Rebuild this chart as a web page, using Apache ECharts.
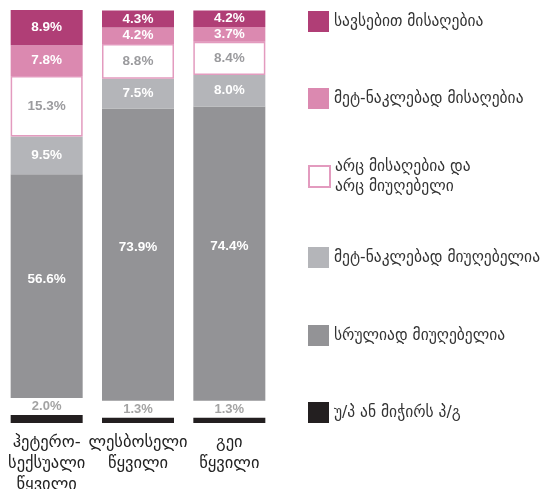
<!DOCTYPE html>
<html>
<head>
<meta charset="utf-8">
<script src="https://cdn.jsdelivr.net/npm/echarts@6/dist/echarts.min.js"></script>
<style>
  html, body { margin: 0; padding: 0; background: #fff; }
  #chart { width: 541px; height: 489px; }
</style>
</head>
<body>
<div id="chart"></div>
<script>
// categories (x axis)
const categories = ['ჰეტერო-\nსექსუალი\nწყვილი', 'ლესბოსელი\nწყვილი', 'გეი\nწყვილი'];

// answer shares, %
const fullyAcceptable = [8.9, 4.3, 4.2];
const moreOrLessAcceptable = [7.8, 4.2, 3.7];
const neitherNor = [15.3, 8.8, 8.4];
const moreOrLessUnacceptable = [9.5, 7.5, 8.0];
const fullyUnacceptable = [56.6, 73.9, 74.4];
const dontKnow = [2.0, 1.3, 1.3];

const names = [
  'სავსებით მისაღებია',
  'მეტ-ნაკლებად მისაღებია',
  'არც მისაღებია და არც მიუღებელი',
  'მეტ-ნაკლებად მიუღებელია',
  'სრულიად მიუღებელია',
  'უ/პ ან მიჭირს პ/გ'
];

const GAP = 4.3; // white gap between the "don't know" strip and the rest

const chart = echarts.init(document.getElementById('chart'));

const geo = '"DejaVu Sans", sans-serif';
const num = '"Liberation Sans Narrow", "Liberation Sans", Arial, sans-serif';
const pct = p => Number(p.value).toFixed(1) + '%';

function seg(name, data, color, labelColor, extra) {
  return Object.assign({
    name: name,
    type: 'bar',
    stack: 'all',
    barWidth: 72,
    data: data,
    itemStyle: { color: color },
    label: {
      show: true,
      position: 'inside',
      formatter: pct,
      color: labelColor,
      fontFamily: num,
      fontWeight: 'bold',
      fontSize: 13.5
    }
  }, extra || {});
}

const legendTops = [11, 88, 146.5, 247, 325, 402];
const legends = names.map((n, i) => ({
  data: [{ name: n, icon: 'rect' }],
  left: 308,
  top: legendTops[i],
  padding: 0,
  itemWidth: 21,
  itemHeight: 21,
  itemGap: 0,
  selectedMode: false,
  formatter: i === 2 ? 'არც მისაღებია და\nარც მიუღებელი' : '{name}',
  textStyle: {
    fontFamily: geo,
    fontSize: 15.5,
    color: '#333',
    lineHeight: 20,
    padding: i === 2 ? [20, 0, 0, 0] : 0
  }
}));

chart.setOption({
  animation: false,
  legend: legends,
  grid: { left: 1, top: 10, width: 274, height: 413, outerBoundsMode: 'none' },
  xAxis: {
    type: 'category',
    data: categories,
    axisLine: { show: false },
    axisTick: { show: false },
    axisLabel: {
      interval: 0,
      margin: 9,
      fontFamily: geo,
      fontSize: 16.5,
      lineHeight: 21,
      color: '#222'
    }
  },
  yAxis: { type: 'value', min: 0, max: 104.4, show: false },
  series: [
    seg(names[5], dontKnow, '#231f20', '#a3a3a3', {
      label: {
        show: true, position: 'top', distance: 2, formatter: pct,
        color: '#a3a3a3', fontFamily: num, fontWeight: 'bold', fontSize: 13
      }
    }),
    {
      name: 'gap', type: 'bar', stack: 'all', barWidth: 72, silent: true,
      data: categories.map(() => GAP),
      itemStyle: { color: 'rgba(0,0,0,0)' }
    },
    seg(names[4], fullyUnacceptable, '#939396', '#fff', {
      label: {
        show: true, position: 'inside', offset: [0, -7], formatter: pct,
        color: '#fff', fontFamily: num, fontWeight: 'bold', fontSize: 13.5
      }
    }),
    seg(names[3], moreOrLessUnacceptable, '#b4b5b9', '#fff'),
    seg(names[2], neitherNor, '#ffffff', '#9b9b9e', {
      itemStyle: { color: '#fff', borderColor: '#e39bbf', borderWidth: 1.5 }
    }),
    seg(names[1], moreOrLessAcceptable, '#db89b0', '#fff'),
    seg(names[0], fullyAcceptable, '#b03e76', '#fff')
  ]
});
</script>
</body>
</html>
